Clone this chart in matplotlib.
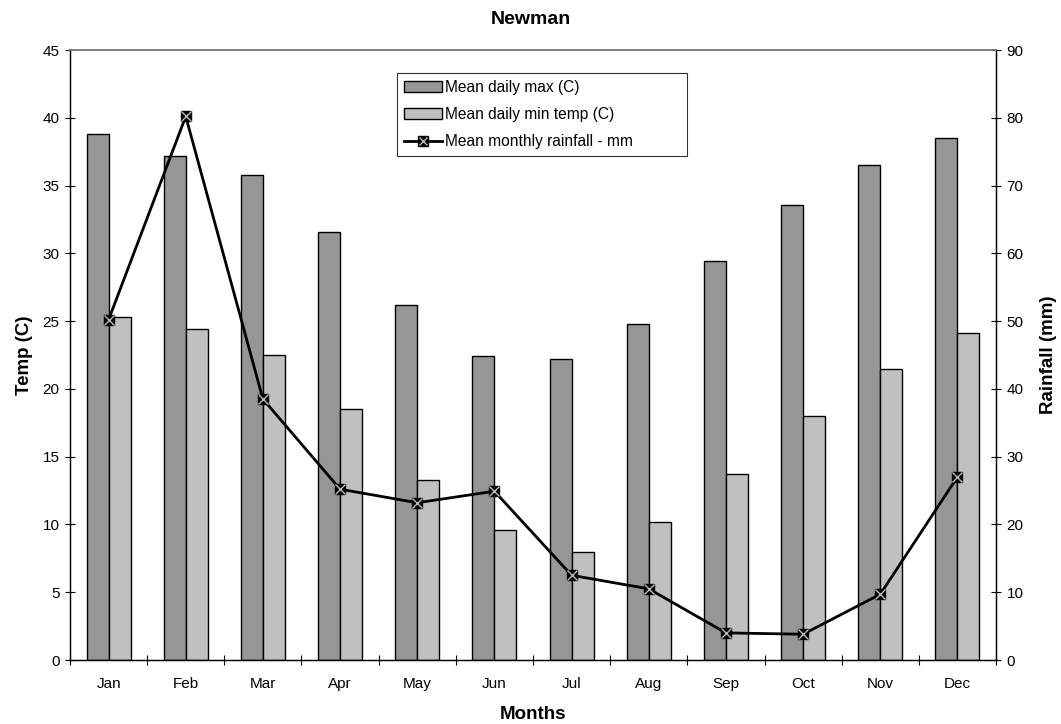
import matplotlib
matplotlib.use("Agg")
import matplotlib.pyplot as plt
from matplotlib.lines import Line2D
from matplotlib.patches import Patch
import numpy as np

plt.rcParams['font.family'] = ['Liberation Sans', 'DejaVu Sans']

months = ["Jan", "Feb", "Mar", "Apr", "May", "Jun",
          "Jul", "Aug", "Sep", "Oct", "Nov", "Dec"]
max_temp = [38.8, 37.2, 35.8, 31.6, 26.2, 22.4, 22.2, 24.8, 29.4, 33.6, 36.5, 38.5]
min_temp = [25.3, 24.4, 22.5, 18.5, 13.3, 9.6, 8.0, 10.2, 13.7, 18.0, 21.5, 24.1]
rainfall = [50.2, 80.2, 38.5, 25.2, 23.2, 24.9, 12.5, 10.5, 4.0, 3.8, 9.7, 27.0]

W, H = 1061, 724
fig = plt.figure(figsize=(W / 100, H / 100), dpi=100)
ax = fig.add_axes([70 / W, (H - 660) / H, 926 / W, 610 / H])
ax2 = ax.twinx()

x = np.arange(len(months))
bw = 0.285
ax.bar(x - bw / 2, max_temp, bw, color="#969696", edgecolor="black", linewidth=1.0, zorder=2)
ax.bar(x + bw / 2, min_temp, bw, color="#c0c0c0", edgecolor="black", linewidth=1.0, zorder=2)

ax2.plot(x, rainfall, color="black", linewidth=2.0, zorder=3)
ax2.plot(x, rainfall, linestyle="none", marker="s", markersize=7.5,
         markerfacecolor="black", markeredgecolor="black", zorder=4)
ax2.plot(x, rainfall, linestyle="none", marker="x", markersize=7,
         markeredgecolor="#b8b8b8", markeredgewidth=1.0, zorder=5)

ax.set_xlim(-0.5, 11.5)
ax.set_ylim(0, 45)
ax2.set_ylim(0, 90)
ax.set_yticks(np.arange(0, 46, 5))
ax2.set_yticks(np.arange(0, 91, 10))

ax.set_xticks(x)
ax.set_xticklabels(months)
ax.set_xticks(np.arange(-0.5, 12, 1), minor=True)
ax.tick_params(axis="x", which="major", length=0, pad=12, labelsize=11)
ax.tick_params(axis="x", which="minor", direction="inout", length=7, width=0.8)
ax.tick_params(axis="y", direction="inout", length=7, width=0.8, labelsize=11, pad=4)
ax2.tick_params(axis="y", direction="inout", length=7, width=0.8, labelsize=11, pad=4)

for a in (ax, ax2):
    a.spines["top"].set_color("#808080")
    a.spines["top"].set_linewidth(1.2)
    for s in ("left", "right", "bottom"):
        a.spines[s].set_linewidth(0.9)

ax.set_xlabel("Months", fontsize=13.5, fontweight="bold", labelpad=11)
ax.set_ylabel("Temp (C)", fontsize=13.5, fontweight="bold", labelpad=7)
ax2.set_ylabel("Rainfall (mm)", fontsize=13.5, fontweight="bold", labelpad=12)
fig.text(0.5, 1 - 20 / H, "Newman", ha="center", va="center", fontsize=14, fontweight="bold")

rain_handle = (
    Line2D([], [], color="black", linewidth=2.0, marker="s", markersize=6.5,
           markerfacecolor="black", markeredgecolor="black"),
    Line2D([], [], linestyle="none", marker="x", markersize=6,
           markeredgecolor="#b8b8b8", markeredgewidth=1.0),
)
handles = [
    Patch(facecolor="#969696", edgecolor="black", linewidth=1.0),
    Patch(facecolor="#c0c0c0", edgecolor="black", linewidth=1.0),
    rain_handle,
]
labels = ["Mean daily max (C)", "Mean daily min temp (C)", "Mean monthly rainfall - mm"]
leg = fig.legend(handles, labels, loc="upper left",
                 bbox_to_anchor=(397 / W, (H - 73) / H, 290 / W, 0), mode="expand",
                 fontsize=11.2, frameon=True, fancybox=False, edgecolor="black",
                 handlelength=2.5, handletextpad=0.15, labelspacing=0.8,
                 borderpad=0.42, borderaxespad=0)
leg.get_frame().set_linewidth(0.8)

fig.savefig("out.png", dpi=100)
